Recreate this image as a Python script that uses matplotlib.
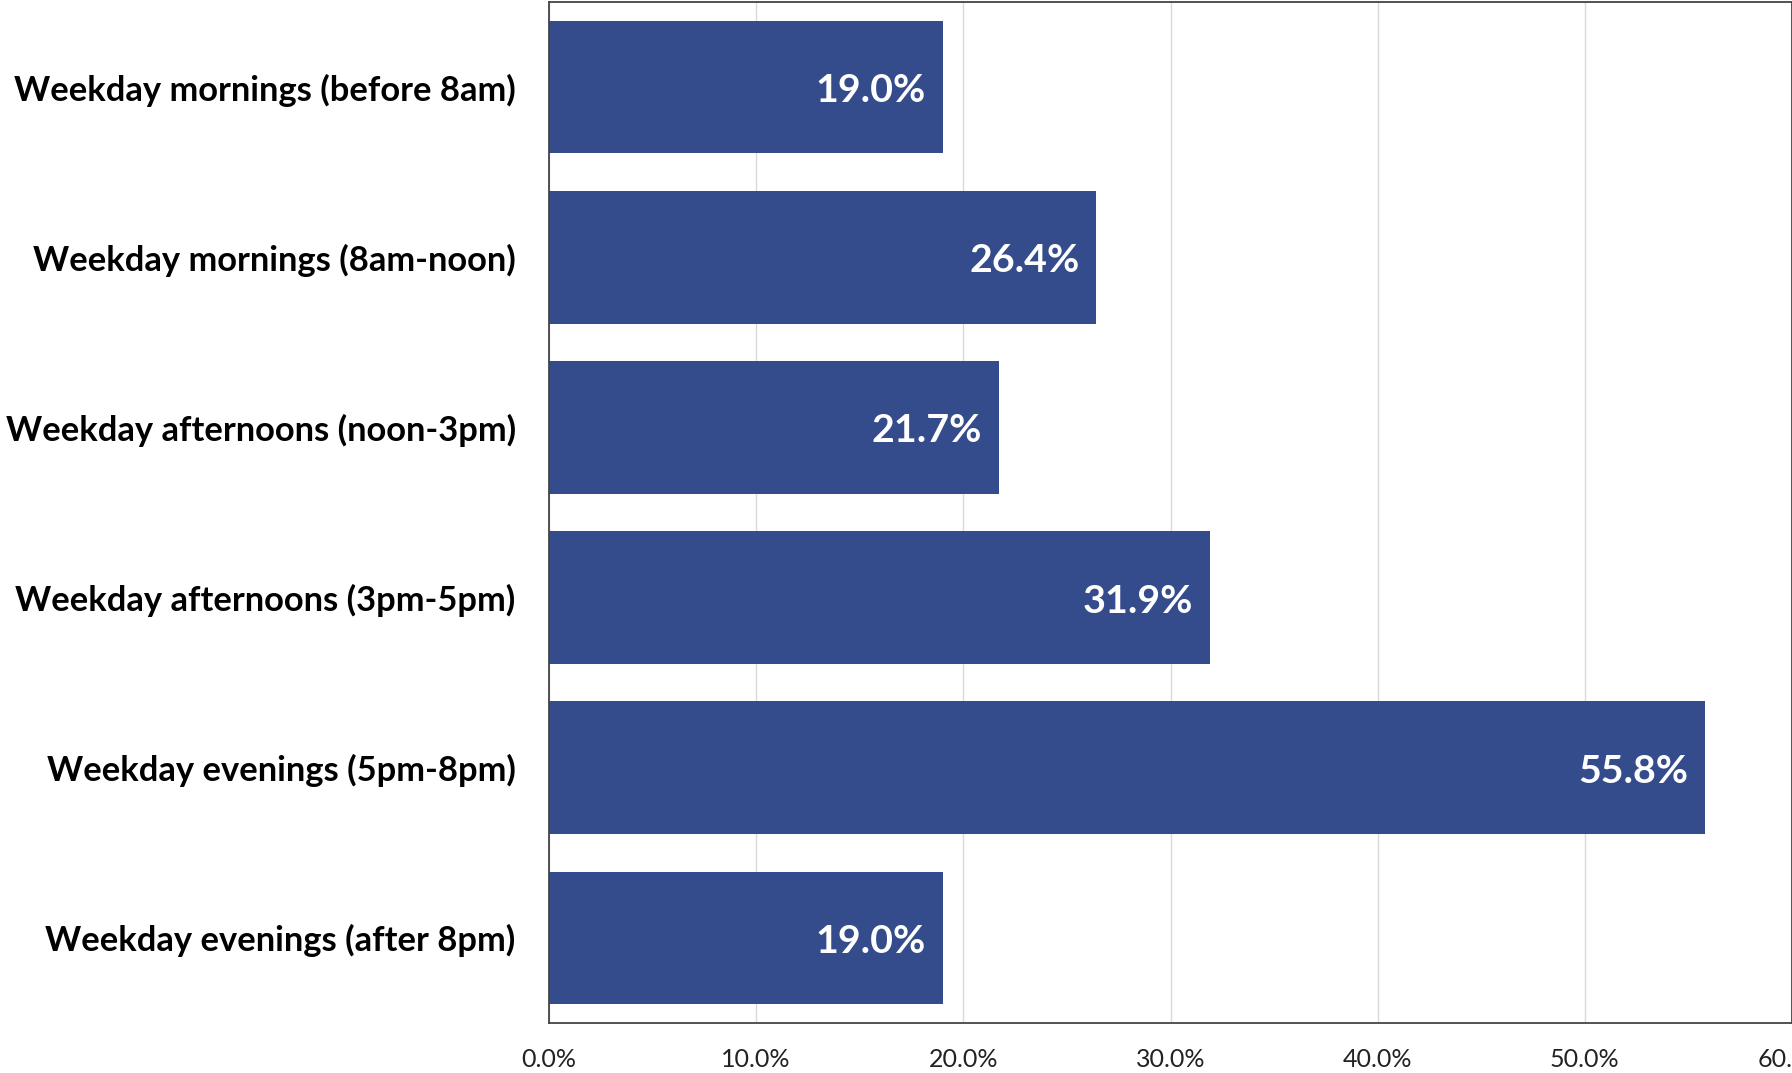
import matplotlib
matplotlib.use("Agg")
import matplotlib.pyplot as plt
from matplotlib.ticker import FuncFormatter

categories = [
    "Weekday mornings (before 8am)",
    "Weekday mornings (8am-noon)",
    "Weekday afternoons (noon-3pm)",
    "Weekday afternoons (3pm-5pm)",
    "Weekday evenings (5pm-8pm)",
    "Weekday evenings (after 8pm)",
]
values = [19.0, 26.4, 21.7, 31.9, 55.8, 19.0]
x_ticks = [0, 10, 20, 30, 40, 50, 60]

BAR = "#354C8C"
FONT = ["Lato", "DejaVu Sans"]

fig = plt.figure(figsize=(17.92, 10.73), dpi=100)
ax = fig.add_axes([549 / 1792, 1 - 1023 / 1073, 1 - 549 / 1792, (1023 - 2) / 1073])

pos = list(range(len(categories)))
ax.barh(pos, values, height=0.78, color=BAR, zorder=2)
ax.set_ylim(len(categories) - 0.5, -0.5)
ax.set_xlim(0, 60)

ax.set_yticks(pos)
ax.set_yticklabels(categories, fontfamily=FONT, fontweight="bold", fontsize=24.8, color="black")
ax.set_xticks(x_ticks)
ax.xaxis.set_major_formatter(FuncFormatter(lambda v, _: f"{v:.1f}%"))
for t in ax.get_xticklabels():
    t.set_fontfamily(FONT)
    t.set_fontsize(18)
    t.set_color("#222222")

ax.tick_params(axis="both", length=0)
ax.tick_params(axis="y", pad=24)
ax.tick_params(axis="x", pad=18)
ax.grid(axis="x", color="#D9D9D9", linewidth=1.0, zorder=0)
ax.set_axisbelow(True)
for side in ["top", "bottom", "left", "right"]:
    ax.spines[side].set_color("#444444")
    ax.spines[side].set_linewidth(1.3)

for p, v in zip(pos, values):
    ax.annotate(f"{v:.1f}%", xy=(v, p), xytext=(-12, -2.5), textcoords="offset points",
                ha="right", va="center", color="white", fontfamily=FONT,
                fontweight="bold", fontsize=28.4)

fig.savefig("out.png", dpi=100)
